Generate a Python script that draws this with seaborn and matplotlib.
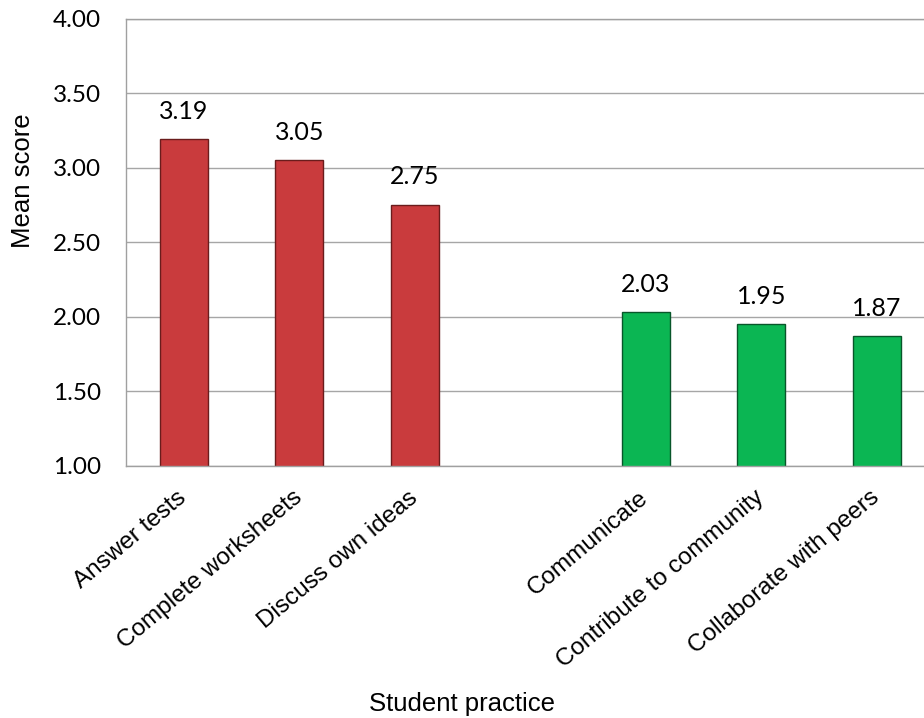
import matplotlib
matplotlib.use("Agg")
import matplotlib.pyplot as plt
import seaborn as sns
import pandas as pd

# ---- data ----
categories = ["Answer tests", "Complete worksheets", "Discuss own ideas",
              "Communicate", "Contribute to community", "Collaborate with peers"]
mean_scores = [3.19, 3.05, 2.75, 2.03, 1.95, 1.87]
groups = ["Traditional", "Traditional", "Traditional",
          "Participatory", "Participatory", "Participatory"]
gap_slot = " "
order = categories[:3] + [gap_slot] + categories[3:]
tick_labels = categories[:3] + [""] + categories[3:]
y_ticks = [1.00, 1.50, 2.00, 2.50, 3.00, 3.50, 4.00]

palette = {"Traditional": "#c93b3d", "Participatory": "#0bb653"}
edges = {"Traditional": "#6a1c1c", "Participatory": "#08562a"}

sns.set_theme(style="white")
plt.rcParams['font.family'] = ['Liberation Sans', 'DejaVu Sans']

fig = plt.figure(figsize=(9.24, 7.18), dpi=100)
ax = fig.add_axes([0.1364, 0.351, 0.875, 0.623])

df = pd.DataFrame({"practice": categories, "score": mean_scores, "group": groups})
sns.barplot(data=df, x="practice", y="score", hue="group", order=order,
            hue_order=["Traditional", "Participatory"], palette=palette,
            saturation=1, width=0.415, dodge=False, legend=False,
            linewidth=1.0, ax=ax)

for cont, grp in zip(ax.containers, ["Traditional", "Participatory"]):
    for p in cont.patches:
        p.set_edgecolor(edges[grp])
    ax.bar_label(cont, fmt="%.2f", padding=12, fontsize=18,
                 family=['Lato', 'DejaVu Sans'], color="#000000")

ax.set_ylim(1.0, 4.0)
ax.set_xlim(-0.5, 6.5)
ax.set_yticks(y_ticks)
ax.set_yticklabels([f"{v:.2f}" for v in y_ticks], fontsize=17.5,
                   family=['Lato', 'DejaVu Sans'])
ax.set_xticks(range(len(order)))
ax.set_xticklabels(tick_labels, rotation=40, ha='right', va='center',
                   rotation_mode='anchor', fontsize=17.5)
ax.tick_params(axis='y', length=0, pad=18, colors='#000000')
ax.tick_params(axis='x', length=0, pad=21, colors='#000000')

ax.yaxis.grid(True, color='#a6a6a6', linewidth=1.0)
ax.xaxis.grid(False)
ax.set_axisbelow(True)
for side in ["left", "top", "bottom", "right"]:
    ax.spines[side].set_color('#a0a0a0')
    ax.spines[side].set_linewidth(1.0)

ax.set_xlabel("Student practice", fontsize=18.5, color='#000000')
ax.xaxis.label.set_va('center')
ax.xaxis.set_label_coords((462 - 126) / 808.5, -0.532)
ax.set_ylabel("Mean score", fontsize=18.5, color='#000000')
ax.yaxis.label.set_va('center')
ax.yaxis.set_label_coords(-0.1274, 0.637)

fig.savefig("out.png", dpi=100, facecolor='white')
